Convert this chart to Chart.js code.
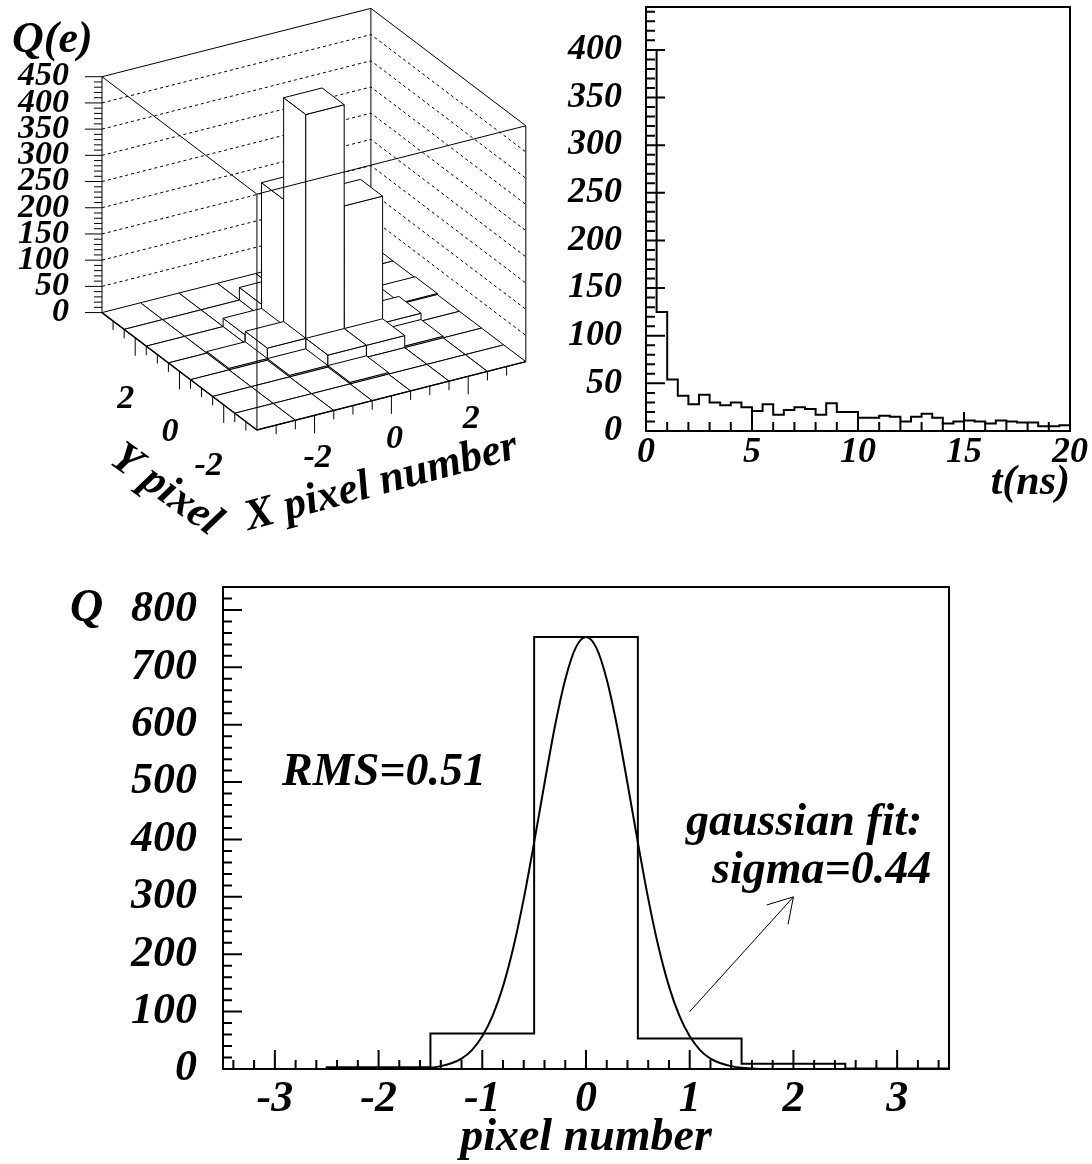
<!DOCTYPE html>
<html>
<head>
<meta charset="utf-8">
<title>Pixel charge</title>
<script src="https://cdn.jsdelivr.net/npm/chart.js@4.4.1/dist/chart.umd.min.js"></script>
<style>
  body { margin: 0; background: #fff; }
  #page { position: relative; width: 1092px; height: 1164px; }
  #page canvas { position: absolute; left: 0; top: 0; }
</style>
</head>
<body>
<div id="page">
  <canvas id="legoChart" width="1092" height="1164"></canvas>
  <canvas id="timeChart" width="1092" height="1164"></canvas>
  <canvas id="pixelChart" width="1092" height="1164"></canvas>
</div>
<script>
// top left: charge collected per pixel
const legoX = [-3, -2, -1, 0, 1, 2, 3];
const legoY = [-3, -2, -1, 0, 1, 2, 3];
// one row per Y pixel, Y = -3 first
const legoQ = [
    [0, 0, 0, 0, 0, 0, 0],
    [0, 0, 0, 3, 0, 0, 0],
    [0, 0, 3, 23, 23, 3, 0],
    [0, 3, 23, 450, 257, 15, 0],
    [0, 0, 16, 256, 40, 5, 2],
    [0, 0, 0, 24, 4, 0, 0],
    [0, 0, 0, 0, 0, 0, 0]
];
const legoQTicks = [0, 50, 100, 150, 200, 250, 300, 350, 400, 450];
const legoPixelTicks = [-2, 0, 2];

// top right: arrival time, 0.5 ns bins
const tBinWidth = 0.5;
const tCounts = [400, 125, 54, 37, 28, 38, 30, 27, 30, 25,
                 21, 28, 17, 22, 25, 23, 17, 29, 20, 20,
                 14, 14, 16, 15, 10, 15, 18, 14, 8, 10,
                 11, 10, 8, 11, 10, 9, 9, 5, 5, 6];
const tTicks = [0, 5, 10, 15, 20];
const tCountTicks = [0, 50, 100, 150, 200, 250, 300, 350, 400];

// bottom: charge vs pixel number with gaussian fit
const pixelNumbers = [-3, -2, -1, 0, 1, 2, 3];
const pixelQ = [0, 3, 62, 753, 53, 9, 1];
const gaussStart = -1.8;
const gaussStep = 0.1;
const gaussQ = [0, 0, 1, 2, 5, 10, 18, 33, 57, 93, 144, 212, 297, 395, 498, 597, 679, 734,
                753, 734, 679, 597, 498, 395, 297, 212, 144, 93, 57, 33, 18, 10, 5, 2, 1, 0, 0];
const pixelTicks = [-3, -2, -1, 0, 1, 2, 3];
const pixelQTicks = [0, 100, 200, 300, 400, 500, 600, 700, 800];

const FONT = "'Liberation Serif', 'Times New Roman', serif";
Chart.defaults.font.family = FONT;
Chart.defaults.font.style = 'italic';
Chart.defaults.font.weight = 'bold';
Chart.defaults.color = '#000';

function bi(size) {
    return { family: FONT, size: size, style: 'italic', weight: 'bold', lineHeight: 1 };
}
function cssFont(size) {
    return 'italic bold ' + size + 'px ' + FONT;
}
function noPad(s) {
    s.paddingLeft = 0; s.paddingRight = 0; s.paddingTop = 0; s.paddingBottom = 0;
}
function setTicks(list) {
    return s => { s.ticks = list.map(v => ({ value: v })); };
}
function strokeLine(ctx, pts) {
    ctx.beginPath();
    ctx.moveTo(pts[0][0], pts[0][1]);
    for (let i = 1; i < pts.length; i++) ctx.lineTo(pts[i][0], pts[i][1]);
    ctx.stroke();
}

// frame with inward ticks on the left and bottom axes
function frameTicks(xMinor, xMajor, yMinor, yMajor) {
    return {
        id: 'frameTicks',
        afterDatasetsDraw(chart) {
            const {ctx, chartArea: a, scales: {x, y}} = chart;
            const isMajor = (v, m) => Math.abs(v / m - Math.round(v / m)) < 1e-6;
            ctx.save();
            ctx.strokeStyle = '#000';
            ctx.lineWidth = 2;
            ctx.beginPath();
            for (let i = Math.ceil(x.min / xMinor - 1e-6); i * xMinor <= x.max + 1e-6; i++) {
                const v = i * xMinor;
                const px = x.getPixelForValue(v);
                ctx.moveTo(px, a.bottom);
                ctx.lineTo(px, a.bottom - (isMajor(v, xMajor) ? 19 : 9));
            }
            for (let i = Math.ceil(y.min / yMinor - 1e-6); i * yMinor <= y.max + 1e-6; i++) {
                const v = i * yMinor;
                const py = y.getPixelForValue(v);
                ctx.moveTo(a.left, py);
                ctx.lineTo(a.left + (isMajor(v, yMajor) ? 19 : 9), py);
            }
            ctx.stroke();
            ctx.strokeRect(a.left, a.top, a.right - a.left, a.bottom - a.top);
            ctx.restore();
        }
    };
}

// ---------- lego plot ----------
const legoBox = { half: 3.5, zTop: 450 };
// screen step of one pixel along X and Y, in hidden-x units and in Q units
const legoDir = { xu: 0.0906, yu: 0.0522, xq: 18.63, yq: 32.0 };

function legoPoint(chart, px, py, q) {
    const {x, y} = chart.scales;
    const a = px + legoBox.half;
    const b = legoBox.half - py;
    return [x.getPixelForValue(a * legoDir.xu + b * legoDir.yu),
            y.getPixelForValue(q + a * legoDir.xq - b * legoDir.yq)];
}

const legoPlugin = {
    id: 'lego',
    afterDraw(chart) {
        const ctx = chart.ctx;
        const h = legoBox.half, top = legoBox.zTop;
        const P = (px, py, q) => legoPoint(chart, px, py, q);
        ctx.save();
        ctx.strokeStyle = '#000';
        ctx.fillStyle = '#fff';
        ctx.lineWidth = 1;

        // back walls
        ctx.setLineDash([3, 3]);
        legoQTicks.forEach(q => {
            if (q > 0 && q < top) strokeLine(ctx, [P(-h, h, q), P(h, h, q), P(h, -h, q)]);
        });
        ctx.setLineDash([]);
        strokeLine(ctx, [P(-h, h, top), P(h, h, top), P(h, -h, top)]);
        strokeLine(ctx, [P(h, h, 0), P(h, h, top)]);
        strokeLine(ctx, [P(h, -h, 0), P(h, -h, top)]);

        // bars, far ones first
        const cells = [];
        legoY.forEach((py, j) => legoX.forEach((px, i) => cells.push({ px: px, py: py, q: legoQ[j][i] })));
        cells.sort((c1, c2) => (c2.px + c2.py) - (c1.px + c1.py));
        const face = pts => {
            ctx.beginPath();
            ctx.moveTo(pts[0][0], pts[0][1]);
            for (let i = 1; i < pts.length; i++) ctx.lineTo(pts[i][0], pts[i][1]);
            ctx.closePath();
            ctx.fill();
            ctx.stroke();
        };
        cells.forEach(c => {
            const x0 = c.px - 0.5, x1 = c.px + 0.5, y0 = c.py - 0.5, y1 = c.py + 0.5;
            if (c.q > 0) {
                face([P(x0, y0, 0), P(x0, y1, 0), P(x0, y1, c.q), P(x0, y0, c.q)]);
                face([P(x0, y0, 0), P(x1, y0, 0), P(x1, y0, c.q), P(x0, y0, c.q)]);
            }
            face([P(x0, y0, c.q), P(x1, y0, c.q), P(x1, y1, c.q), P(x0, y1, c.q)]);
        });

        // front of the box
        strokeLine(ctx, [P(-h, h, 0), P(-h, h, top), P(-h, -h, top), P(h, -h, top)]);
        strokeLine(ctx, [P(-h, -h, 0), P(-h, -h, top)]);
        ctx.lineWidth = 1.5;
        strokeLine(ctx, [P(-h, h, 0), P(-h, -h, 0), P(h, -h, 0)]);

        // Q axis ticks
        ctx.lineWidth = 1;
        ctx.beginPath();
        for (let q = 0; q <= top; q += 10) {
            const p = P(-h, h, q);
            ctx.moveTo(p[0], p[1]);
            ctx.lineTo(p[0] - (q % 50 === 0 ? 17 : 8), p[1]);
        }
        // floor axis ticks
        for (let k = -6; k <= 6; k++) {
            const v = k / 2;
            const len = legoPixelTicks.includes(v) ? 18 : 9;
            const py = P(-h, v, 0);
            ctx.moveTo(py[0], py[1]);
            ctx.lineTo(py[0], py[1] + len);
            const px = P(v, -h, 0);
            ctx.moveTo(px[0], px[1]);
            ctx.lineTo(px[0], px[1] + len);
        }
        ctx.stroke();

        // floor axis labels
        ctx.fillStyle = '#000';
        ctx.font = cssFont(34);
        ctx.textBaseline = 'middle';
        legoPixelTicks.forEach(v => {
            const py = P(-h, v, 0);
            ctx.textAlign = 'right';
            ctx.fillText(String(v), py[0] - 1, py[1] + 61);
            const px = P(v, -h, 0);
            ctx.textAlign = 'center';
            ctx.fillText(String(v), px[0] + 3, px[1] + 43);
        });

        // titles
        ctx.font = cssFont(44);
        let p = P(-h, 0, 0);
        ctx.save();
        ctx.translate(p[0] - 14, p[1] + 119);
        ctx.rotate(36 * Math.PI / 180);
        ctx.textAlign = 'center';
        ctx.fillText('Y pixel', 0, 0);
        ctx.restore();
        p = P(0, -h, 0);
        ctx.save();
        ctx.translate(p[0] - 10, p[1] + 87);
        ctx.rotate(-15 * Math.PI / 180);
        ctx.textAlign = 'center';
        ctx.fillText('X pixel number', 0, 0);
        ctx.restore();
        p = P(-h, h, top);
        ctx.textAlign = 'left';
        ctx.textBaseline = 'alphabetic';
        ctx.fillText('Q(e)', p[0] - 90, p[1] - 25);
        ctx.restore();
    }
};

new Chart(document.getElementById('legoChart'), {
    type: 'scatter',
    data: { datasets: [] },
    options: {
        responsive: false,
        animation: false,
        events: [],
        layout: { padding: { left: 0, right: 566, top: 7, bottom: 734 } },
        plugins: { legend: { display: false }, tooltip: { enabled: false } },
        scales: {
            x: { type: 'linear', display: false, min: 0, max: 1 },
            y: {
                type: 'linear',
                min: -224,
                max: 583,
                afterBuildTicks: setTicks(legoQTicks),
                afterFit: s => { s.width = 102; noPad(s); },
                grid: { display: false, drawTicks: false },
                border: { display: false },
                ticks: { autoSkip: false, padding: 33, color: '#000', font: bi(34) }
            }
        }
    },
    plugins: [legoPlugin]
});

// ---------- arrival time ----------
const tPoints = tCounts.map((c, i) => ({ x: i * tBinWidth, y: c }));
tPoints.push({ x: tCounts.length * tBinWidth, y: tCounts[tCounts.length - 1] });

new Chart(document.getElementById('timeChart'), {
    type: 'line',
    data: {
        datasets: [{
            data: tPoints,
            stepped: 'before',
            borderColor: '#000',
            borderWidth: 2,
            pointRadius: 0,
            fill: false
        }]
    },
    options: {
        responsive: false,
        animation: false,
        events: [],
        layout: { padding: { left: 560, right: 22, top: 7, bottom: 653 } },
        plugins: { legend: { display: false }, tooltip: { enabled: false } },
        scales: {
            x: {
                type: 'linear',
                min: 0,
                max: 20,
                afterBuildTicks: setTicks(tTicks),
                afterFit: s => { s.height = 80; noPad(s); },
                grid: { display: false, drawTicks: false },
                border: { display: false },
                ticks: { autoSkip: false, maxRotation: 0, padding: 4, color: '#000', font: bi(36) },
                title: { display: true, text: 't(ns)', align: 'end', color: '#000',
                         padding: { top: 0, bottom: 7 }, font: bi(42) }
            },
            y: {
                type: 'linear',
                min: 0,
                max: 445,
                afterBuildTicks: setTicks(tCountTicks),
                afterFit: s => { s.width = 86; noPad(s); },
                grid: { display: false, drawTicks: false },
                border: { display: false },
                ticks: { autoSkip: false, padding: 24, color: '#000', font: bi(36) }
            }
        }
    },
    plugins: [frameTicks(1, 5, 10, 50)]
});

// ---------- pixel projection ----------
const pixelPoints = pixelQ.map((q, i) => ({ x: pixelNumbers[i] - 0.5, y: q }));
pixelPoints.push({ x: pixelNumbers[pixelNumbers.length - 1] + 0.5, y: pixelQ[pixelQ.length - 1] });
const gaussPoints = gaussQ.map((q, i) => ({ x: gaussStart + i * gaussStep, y: q }));

const pixelNotes = {
    id: 'pixelNotes',
    afterDraw(chart) {
        const {ctx, chartArea: a, scales: {x, y}} = chart;
        ctx.save();
        ctx.fillStyle = '#000';
        ctx.strokeStyle = '#000';
        ctx.font = cssFont(46);
        ctx.textAlign = 'left';
        ctx.textBaseline = 'alphabetic';
        ctx.fillText('RMS=0.51', x.getPixelForValue(-2.93), y.getPixelForValue(495));
        ctx.fillText('gaussian fit:', x.getPixelForValue(0.964), y.getPixelForValue(408));
        ctx.fillText('sigma=0.44', x.getPixelForValue(1.215), y.getPixelForValue(324));
        ctx.fillText('Q', a.left - 153, a.top + 34);

        // arrow towards the fit result
        const x0 = x.getPixelForValue(1), y0 = y.getPixelForValue(100);
        const x1 = x.getPixelForValue(2), y1 = y.getPixelForValue(300);
        const ang = Math.atan2(y0 - y1, x0 - x1);
        const barb = 28, spread = 31 * Math.PI / 180;
        ctx.lineWidth = 1;
        strokeLine(ctx, [[x0, y0], [x1, y1]]);
        strokeLine(ctx, [[x1 + barb * Math.cos(ang + spread), y1 + barb * Math.sin(ang + spread)],
                         [x1, y1],
                         [x1 + barb * Math.cos(ang - spread), y1 + barb * Math.sin(ang - spread)]]);
        ctx.restore();
    }
};

new Chart(document.getElementById('pixelChart'), {
    type: 'line',
    data: {
        datasets: [{
            data: pixelPoints,
            stepped: 'before',
            borderColor: '#000',
            borderWidth: 2,
            pointRadius: 0,
            fill: false
        }, {
            data: gaussPoints,
            cubicInterpolationMode: 'monotone',
            borderColor: '#000',
            borderWidth: 2,
            pointRadius: 0,
            fill: false
        }]
    },
    options: {
        responsive: false,
        animation: false,
        events: [],
        layout: { padding: { left: 0, right: 143, top: 587, bottom: 0 } },
        plugins: { legend: { display: false }, tooltip: { enabled: false } },
        scales: {
            x: {
                type: 'linear',
                min: -3.5,
                max: 3.5,
                afterBuildTicks: setTicks(pixelTicks),
                afterFit: s => { s.height = 95; noPad(s); },
                grid: { display: false, drawTicks: false },
                border: { display: false },
                ticks: { autoSkip: false, maxRotation: 0, padding: 9, color: '#000', font: bi(44) },
                title: { display: true, text: 'pixel number', color: '#000',
                         padding: { top: 0, bottom: 3 }, font: bi(46) }
            },
            y: {
                type: 'linear',
                min: 0,
                max: 840,
                afterBuildTicks: setTicks(pixelQTicks),
                afterFit: s => { s.width = 223; noPad(s); },
                grid: { display: false, drawTicks: false },
                border: { display: false },
                ticks: { autoSkip: false, padding: 26, color: '#000', font: bi(44) }
            }
        }
    },
    plugins: [frameTicks(0.2, 1, 20, 100), pixelNotes]
});
</script>
</body>
</html>
